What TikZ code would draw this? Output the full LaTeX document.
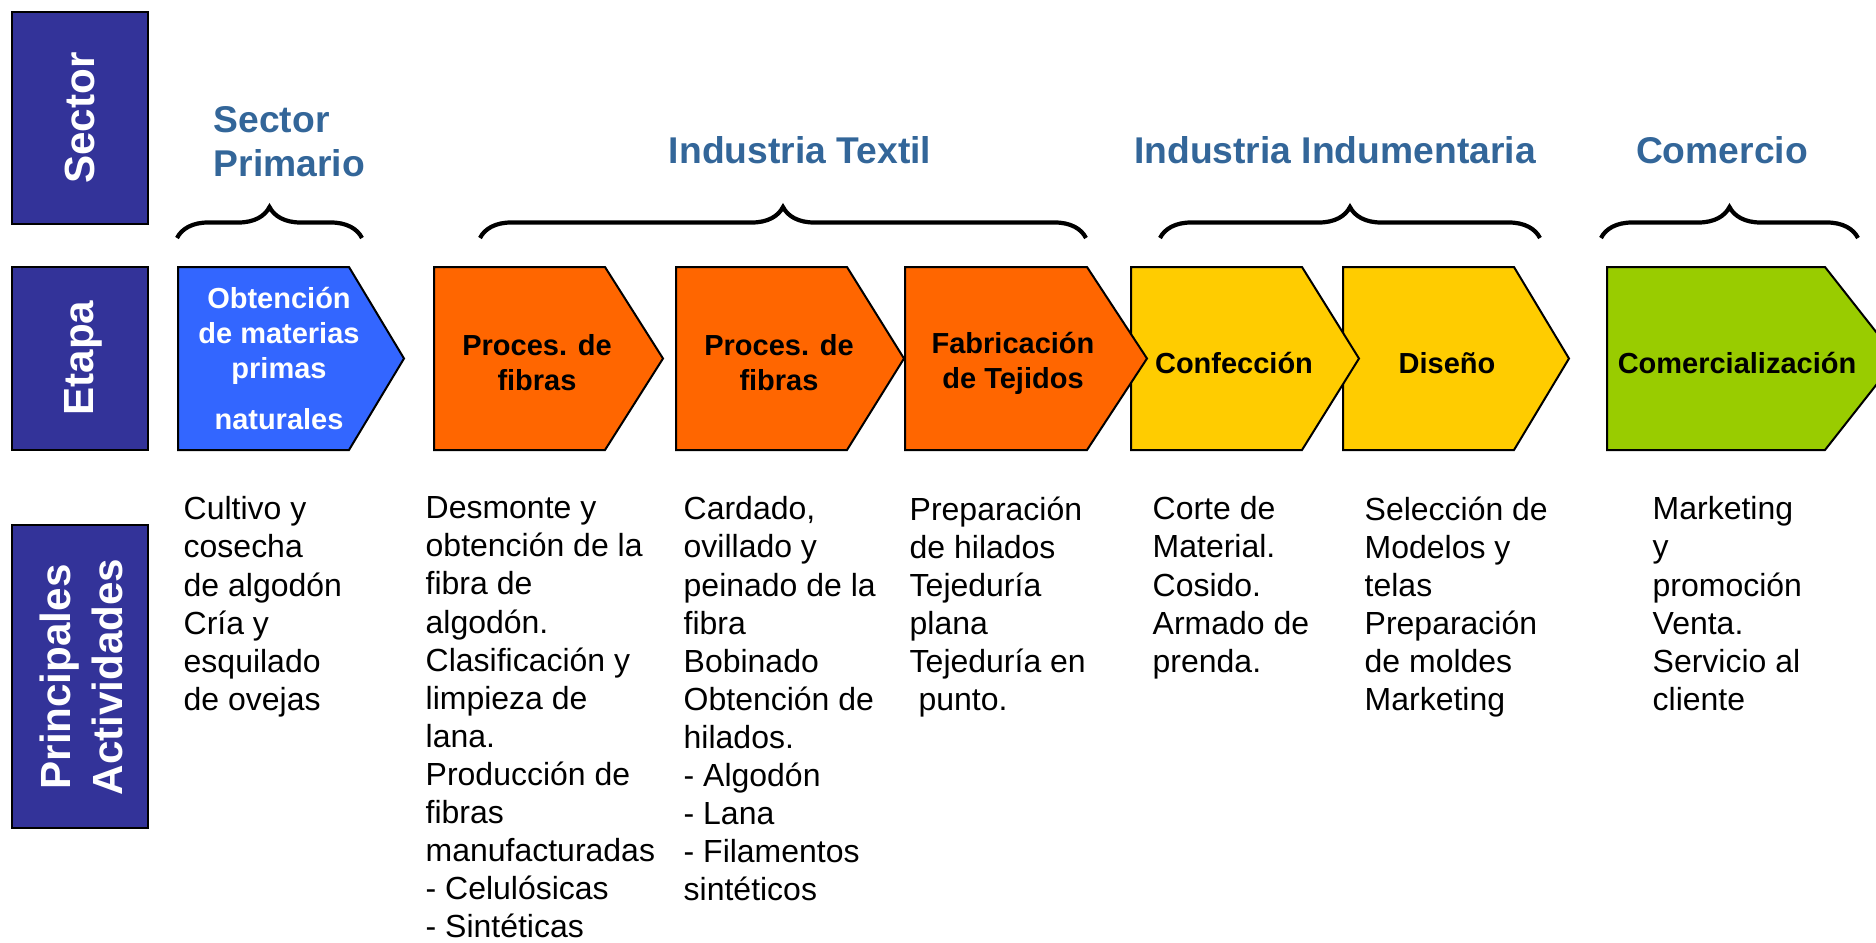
\documentclass[tikz,border=0pt]{standalone}
\usepackage{fontspec}
\setmainfont{Liberation Sans}
\usetikzlibrary{decorations.pathreplacing}
\definecolor{navy}{RGB}{51,51,153}
\definecolor{hdrblue}{RGB}{51,102,153}
\definecolor{chblue}{RGB}{51,102,255}
\definecolor{chorange}{RGB}{255,102,0}
\definecolor{chyellow}{RGB}{255,204,0}
\definecolor{chgreen}{RGB}{153,204,0}
\def\chevron[#1](#2:#3:#4){\draw[#1] (#2,\etop) -- (#3,\etop) -- (#4,\emid) -- (#3,\ebot) -- (#2,\ebot) -- cycle;}
\tikzset{
  label box/.style={draw=black, line width=0.2mm, fill=navy},
  side label/.style={text=white, font=\fontsize{12}{14.8}\selectfont\bfseries, rotate=90, align=center},
  stage box/.style={draw=black, line width=0.2mm, line join=miter},
  stage/.style={font=\fontsize{8.25}{9.96}\selectfont\bfseries, align=center},
  sector/.style={text=hdrblue, font=\fontsize{10.6}{12.5}\selectfont\bfseries},
  activity/.style={font=\fontsize{9.1}{10.84}\selectfont, align=left, anchor=north west, inner sep=0pt},
  group brace/.style={decorate, decoration={brace, amplitude=3.1mm}, line width=0.42mm},
}
\begin{document}
\begin{tikzpicture}[x=0.1mm, y=-0.1mm]
				%%%%% START %%%%%
				\def\etop{267}
				\def\ebot{450}
				\def\emid{358.5}
				\def\ety{363}
				\def\acty{496}
				\def\bry{238}
				\useasboundingbox (0,0) rectangle (1876,943);
				
				% row labels
				\draw[label box] (12,12) rectangle (148,224);
				\draw[label box] (12,267) rectangle (148,450);
				\draw[label box] (12,525) rectangle (148,828);
				\node[side label] (lsector) at (80,118) {Sector};
				\node[side label] (letapa) at (83,358) {Etapa};
				\node[side label] (lact) at (81,677) {Principales\\Actividades};
				
				% stages, right to left so each tip lies on top
				\chevron[stage box, fill=chgreen](1607:1825:1897)
				\chevron[stage box, fill=chyellow](1343:1514:1569)
				\chevron[stage box, fill=chyellow](1131:1302:1359)
				\chevron[stage box, fill=chorange](905:1087:1147)
				\chevron[stage box, fill=chorange](676:847:904)
				\chevron[stage box, fill=chorange](434:605:663)
				\chevron[stage box, fill=chblue](178:349:404)
				
				\node[stage, text=white] (obtencion) at (279,\emid) {Obtención\\de materias\\primas\\[4.5pt]naturales};
				\node[stage] (fibras1) at (537,\ety) {Proces. de\\fibras};
				\node[stage] (fibras2) at (779,\ety) {Proces. de\\fibras};
				\node[stage] (tejidos) at (1013,\ety) {Fabricación\\de Tejidos};
				\node[stage] (confeccion) at (1234,\ety) {Confección};
				\node[stage] (diseno) at (1447,\ety) {Diseño};
				\node[stage] (comercial) at (1737,\ety) {Comercialización};
				
				% sectors
				\node[sector, anchor=north west, align=left, inner sep=0pt] (hprimario) at (213,106) {Sector\\Primario};
				\node[sector, anchor=base] (htextil) at (800,164) {Industria Textil};
				\node[sector, anchor=base] (hindum) at (1335,164) {Industria Indumentaria};
				\node[sector, anchor=base] (hcomercio) at (1722,164) {Comercio};
				
				\coordinate (b1l) at (177,\bry);
				\coordinate (b1r) at (362,\bry);
				\coordinate (b2l) at (480,\bry);
				\coordinate (b2r) at (1086,\bry);
				\coordinate (b3l) at (1160,\bry);
				\coordinate (b3r) at (1540,\bry);
				\coordinate (b4l) at (1601,\bry);
				\coordinate (b4r) at (1858,\bry);
				\draw[group brace] (b1l) -- (b1r);
				\draw[group brace] (b2l) -- (b2r);
				\draw[group brace] (b3l) -- (b3r);
				\draw[group brace] (b4l) -- (b4r);
				
				% activities
				\node[activity] (act1) at (183,\acty) {Cultivo y\\cosecha\\de algodón\\Cría y\\esquilado\\de ovejas};
				\node[activity] (act2) at (425,\acty) {Desmonte y\\obtención de la\\fibra de\\algodón.\\Clasificación y\\limpieza de\\lana.\\Producción de\\fibras\\manufacturadas\\- Celulósicas\\- Sintéticas};
				\node[activity] (act3) at (683,\acty) {Cardado,\\ovillado y\\peinado de la\\fibra\\Bobinado\\Obtención de\\hilados.\\- Algodón\\- Lana\\- Filamentos\\sintéticos};
				\node[activity] (act4) at (909,\acty) {Preparación\\de hilados\\Tejeduría\\plana\\Tejeduría en\\\ punto.};
				\node[activity] (act5) at (1152,\acty) {Corte de\\Material.\\Cosido.\\Armado de\\prenda.};
				\node[activity] (act6) at (1364,\acty) {Selección de\\Modelos y\\telas\\Preparación\\de moldes\\Marketing};
				\node[activity] (act7) at (1652,\acty) {Marketing\\y\\promoción\\Venta.\\Servicio al\\cliente};
				%%%%% END %%%%%
\end{tikzpicture}
\end{document}
